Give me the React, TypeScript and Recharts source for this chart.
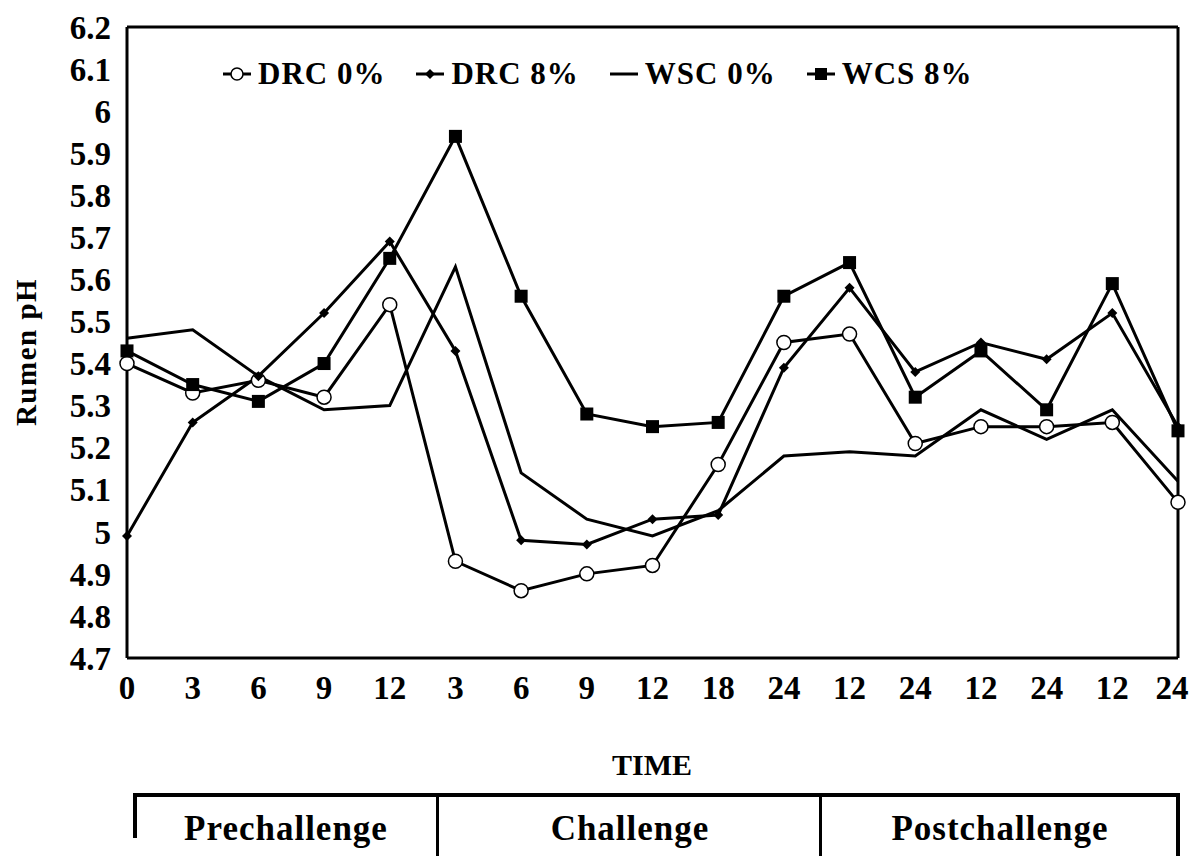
import React from "react";
import { Legend, Line, LineChart, XAxis, YAxis } from "recharts";

const TIME_LABELS = ["0", "3", "6", "9", "12", "3", "6", "9", "12", "18", "24", "12", "24", "12", "24", "12", "24"];
const DRC_0 = [5.4, 5.33, 5.36, 5.32, 5.54, 4.93, 4.86, 4.9, 4.92, 5.16, 5.45, 5.47, 5.21, 5.25, 5.25, 5.26, 5.07];
const DRC_8 = [4.99, 5.26, 5.37, 5.52, 5.69, 5.43, 4.98, 4.97, 5.03, 5.04, 5.39, 5.58, 5.38, 5.45, 5.41, 5.52, 5.25];
const WSC_0 = [5.46, 5.48, 5.37, 5.29, 5.3, 5.63, 5.14, 5.03, 4.99, 5.05, 5.18, 5.19, 5.18, 5.29, 5.22, 5.29, 5.12];
const WCS_8 = [5.43, 5.35, 5.31, 5.4, 5.65, 5.94, 5.56, 5.28, 5.25, 5.26, 5.56, 5.64, 5.32, 5.43, 5.29, 5.59, 5.24];
const Y_TICKS = [4.7, 4.8, 4.9, 5, 5.1, 5.2, 5.3, 5.4, 5.5, 5.6, 5.7, 5.8, 5.9, 6, 6.1, 6.2];
const PHASES = ["Prechallenge", "Challenge", "Postchallenge"];
const SERIES_ORDER = ["drc0", "drc8", "wsc0", "wcs8"];

const data = TIME_LABELS.map((t, i) => ({
  i,
  drc0: DRC_0[i],
  drc8: DRC_8[i],
  wsc0: WSC_0[i],
  wcs8: WCS_8[i],
}));

const FONT = "Liberation Serif, serif";
const INK = "#000";

function CircleDot({ cx, cy }: any) {
  if (cx == null || cy == null) return null;
  return <circle cx={cx} cy={cy} r={7} fill="#fff" stroke={INK} strokeWidth={1.5} />;
}

function DiamondDot({ cx, cy }: any) {
  if (cx == null || cy == null) return null;
  const s = 5;
  return <polygon points={`${cx},${cy - s} ${cx + s},${cy} ${cx},${cy + s} ${cx - s},${cy}`} fill={INK} />;
}

function SquareDot({ cx, cy }: any) {
  if (cx == null || cy == null) return null;
  return <rect x={cx - 6.5} y={cy - 6.5} width={13} height={13} fill={INK} />;
}

const MARKERS: Record<string, (x: number, y: number) => React.ReactNode> = {
  drc0: (x, y) => <circle cx={x} cy={y} r={6} fill="#fff" stroke={INK} strokeWidth={1.5} />,
  drc8: (x, y) => <polygon points={`${x},${y - 5} ${x + 5},${y} ${x},${y + 5} ${x - 5},${y}`} fill={INK} />,
  wsc0: () => null,
  wcs8: (x, y) => <rect x={x - 6} y={y - 6} width={12} height={12} fill={INK} />,
};

function LegendContent({ payload }: any) {
  const items = [...(payload || [])].sort(
    (a: any, b: any) => SERIES_ORDER.indexOf(a.dataKey) - SERIES_ORDER.indexOf(b.dataKey)
  );
  return (
    <div style={{ display: "flex", alignItems: "center", fontFamily: FONT, fontWeight: "bold", fontSize: 31, letterSpacing: 1 }}>
      {items.map((p: any) => (
        <div key={p.dataKey} style={{ display: "flex", alignItems: "center", marginRight: 30 }}>
          <svg width={30} height={20} style={{ marginRight: 6 }}>
            <line x1={1} y1={10} x2={29} y2={10} stroke={INK} strokeWidth={3} />
            {MARKERS[p.dataKey](15, 10)}
          </svg>
          <span>{p.value}</span>
        </div>
      ))}
    </div>
  );
}

const tickStyle = { fontFamily: FONT, fontWeight: "bold", fontSize: 33, fill: INK };

function TimeTick({ x, y, payload }: any) {
  const last = payload.value === TIME_LABELS.length - 1;
  return (
    <text x={x - (last ? 6 : 0)} y={y + 16} dy="0.71em" textAnchor="middle" {...tickStyle}>
      {TIME_LABELS[payload.value]}
    </text>
  );
}

export default function App() {
  return (
    <div style={{ position: "absolute", left: 0, top: 0, width: 1192, height: 856, background: "#fff" }}>
      <LineChart width={1192} height={720} data={data} margin={{ top: 26, right: 13, bottom: 0, left: 0 }}>
        <XAxis
          dataKey="i"
          type="category"
          interval={0}
          tickLine={false}
          tickSize={0}
          height={62}
          axisLine={{ stroke: INK, strokeWidth: 3 }}
          tick={<TimeTick />}
        />
        <XAxis xAxisId="top" dataKey="i" orientation="top" tick={false} tickLine={false} height={1} axisLine={{ stroke: INK, strokeWidth: 3 }} />
        <YAxis
          type="number"
          domain={[4.7, 6.2]}
          ticks={Y_TICKS}
          interval={0}
          tickLine={false}
          tickSize={0}
          tickMargin={16}
          width={127}
          axisLine={{ stroke: INK, strokeWidth: 3 }}
          tick={tickStyle}
        />
        <YAxis yAxisId="right" orientation="right" domain={[4.7, 6.2]} tick={false} tickLine={false} width={1} axisLine={{ stroke: INK, strokeWidth: 3 }} />
        <Legend
          verticalAlign="middle"
          align="center"
          layout="horizontal"
          content={<LegendContent />}
          wrapperStyle={{ top: 56, left: 222, width: "auto" }}
        />
        <Line dataKey="drc0" name="DRC 0%" stroke={INK} strokeWidth={3} dot={<CircleDot />} isAnimationActive={false} />
        <Line dataKey="drc8" name="DRC 8%" stroke={INK} strokeWidth={3} dot={<DiamondDot />} isAnimationActive={false} />
        <Line dataKey="wsc0" name="WSC 0%" stroke={INK} strokeWidth={3} dot={false} isAnimationActive={false} />
        <Line dataKey="wcs8" name="WCS 8%" stroke={INK} strokeWidth={3} dot={<SquareDot />} isAnimationActive={false} />
      </LineChart>

      <div
        style={{
          position: "absolute",
          left: 26,
          top: 352,
          transform: "translate(-50%, -50%) rotate(-90deg)",
          fontFamily: FONT,
          fontWeight: "bold",
          fontSize: 29,
          letterSpacing: 1.5,
          whiteSpace: "nowrap",
        }}
      >
        Rumen pH
      </div>
      <div
        style={{
          position: "absolute",
          left: 652,
          top: 765,
          transform: "translate(-50%, -50%)",
          fontFamily: FONT,
          fontWeight: "bold",
          fontSize: 30,
        }}
      >
        TIME
      </div>

      <div style={{ position: "absolute", left: 133, top: 793, width: 1047, height: 4, background: INK }} />
      <div style={{ position: "absolute", left: 133, top: 793, width: 4, height: 45, background: INK }} />
      <div style={{ position: "absolute", left: 436, top: 793, width: 3, height: 63, background: INK }} />
      <div style={{ position: "absolute", left: 819, top: 793, width: 3, height: 63, background: INK }} />
      <div style={{ position: "absolute", left: 1176, top: 793, width: 4, height: 63, background: INK }} />
      {PHASES.map((p, k) => (
        <div
          key={p}
          style={{
            position: "absolute",
            left: [286, 630, 1000][k],
            top: 829,
            transform: "translate(-50%, -50%)",
            fontFamily: FONT,
            fontWeight: "bold",
            fontSize: 35,
            letterSpacing: 1,
            whiteSpace: "nowrap",
          }}
        >
          {p}
        </div>
      ))}
    </div>
  );
}
